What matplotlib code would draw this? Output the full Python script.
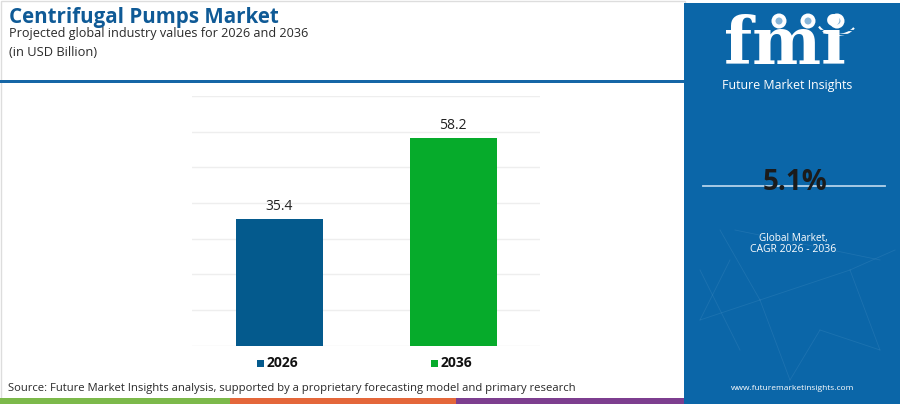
import matplotlib
matplotlib.use("Agg")
import matplotlib.pyplot as plt
from matplotlib.patches import Rectangle, Circle, Arc
from matplotlib.lines import Line2D

# ---- data ----
categories = ["2026", "2036"]
values = [35.4, 58.2]
bar_colors = ["#045a8d", "#06ab2b"]
y_max = 70
y_step = 10
title = "Centrifugal Pumps Market"
subtitle = "Projected global industry values for 2026 and 2036"
unit_text = "(in USD Billion)"
cagr = "5.1%"
source = "Source: Future Market Insights analysis, supported by a proprietary forecasting model and primary research"

W, H = 900, 404
fig = plt.figure(figsize=(W / 100, H / 100), dpi=100)
fig.patch.set_facecolor("white")

def fx(x):
    return x / W

def fy(y):
    return 1 - y / H

FONT = ["Open Sans", "DejaVu Sans"]

# decoration overlay in pixel coords
ov = fig.add_axes([0, 0, 1, 1], zorder=0)
ov.set_xlim(0, W)
ov.set_ylim(H, 0)
ov.axis("off")

# faint outer border
ov.add_patch(Rectangle((0.5, 0.5), 684, 403, fill=False, edgecolor="#dddddd", lw=1))
# header line
ov.add_patch(Rectangle((0, 80), 684, 3, facecolor="#1566a6", edgecolor="none"))
# bottom strip
ov.add_patch(Rectangle((0, 398), 230, 6, facecolor="#7cb94a", edgecolor="none"))
ov.add_patch(Rectangle((230, 398), 226, 6, facecolor="#e4673a", edgecolor="none"))
ov.add_patch(Rectangle((456, 398), 228, 6, facecolor="#7d3e8f", edgecolor="none"))
# right panel
PANEL = "#0b66a8"
ov.add_patch(Rectangle((684, 3), 216, 401, facecolor=PANEL, edgecolor="none"))

# faint network in panel
net = [((720, 230), (760, 300)), ((760, 300), (850, 270)), ((700, 320), (760, 300)),
       ((850, 270), (880, 350)), ((760, 300), (790, 380)), ((730, 260), (700, 320)),
       ((820, 330), (880, 350)), ((790, 380), (820, 330)), ((850, 270), (895, 250)),
       ((735, 230), (880, 260)), ((700, 270), (740, 350))]
for (a, b) in net:
    ov.add_line(Line2D([a[0], b[0]], [a[1], b[1]], color="#5a9ccc", lw=0.6, alpha=0.22))

# logo
ov.text(785, 64.5, "fmi", color="white", fontsize=47, fontweight="bold",
        family=["DejaVu Serif"], ha="center", va="baseline")
for yy in range(30, 66, 4):
    ov.add_line(Line2D([715, 860], [yy, yy], color=PANEL, lw=0.9))
for cx in (779, 808, 837):
    ov.add_patch(Circle((cx, 21), 7.5, facecolor="white", edgecolor="none"))
    ov.add_patch(Circle((cx, 21), 3.5, facecolor="#3a86c0", edgecolor="none", alpha=0.6))
ov.add_patch(Arc((837, 20), 40, 30, theta1=25, theta2=160, color="white", lw=1.5))
ov.text(787, 86, "Future Market Insights", color="white", fontsize=8.9,
        family=FONT, ha="center", va="center")

# CAGR
ov.add_line(Line2D([703, 885], [186, 186], color="#b4d2ea", lw=1.3))
ov.text(795, 183, cagr, color="#1b1b1b", fontsize=20, fontweight="bold",
        family=FONT, ha="center", va="center")
ov.text(793, 238, "Global Market,", color="white", fontsize=7.2, family=FONT,
        ha="center", va="center")
ov.text(793, 250, "CAGR 2026 - 2036", color="white", fontsize=7.5, family=FONT,
        ha="center", va="center")
ov.text(793, 389, "www.futuremarketinsights.com", color="white", fontsize=6,
        family=FONT, ha="center", va="center")

# titles
ov.text(9, 18, title, color="#0f5a96", fontsize=14.8, fontweight="bold",
        family=FONT, ha="left", va="center")
ov.text(9, 34, subtitle, color="#2a2a2a", fontsize=9.1, family=FONT,
        ha="left", va="center")
ov.text(9, 53, unit_text, color="#2a2a2a", fontsize=9.3, family=FONT,
        ha="left", va="center")
ov.text(8, 389, source, color="#2a2a2a", fontsize=8.1, family=FONT,
        ha="left", va="center")

# ---- bar chart ----
ax = fig.add_axes([fx(192), fy(345.7), fx(540) - fx(192), fy(96) - fy(345.7)], zorder=1)
ax.patch.set_alpha(0)
xs = list(range(len(categories)))
bars = ax.bar(xs, values, width=0.5, color=bar_colors, zorder=2)
ax.set_xlim(-0.5, len(categories) - 0.5)
ax.set_ylim(0, y_max)
ax.set_yticks(range(0, y_max + 1, y_step))
ax.yaxis.grid(True, color="#eeeeee", lw=1, zorder=0)
ax.set_axisbelow(True)
ax.tick_params(left=False, bottom=False, labelleft=False, labelbottom=False)
for s in ax.spines.values():
    s.set_visible(False)
for x, v in zip(xs, values):
    ax.annotate(f"{v:.1f}", (x, v), xytext=(0, 4), textcoords="offset points",
                ha="center", va="bottom", fontsize=10, color="#222222", family=FONT)

# legend below
ly = fy(363)
for x, c, lab in zip(xs, bar_colors, categories):
    px = ax.transData.transform((x, 0))[0]
    fig.patches.append(Rectangle((fx(px - 22), fy(367)), fx(7), 7 / H,
                                 facecolor=c, edgecolor="none",
                                 transform=fig.transFigure, figure=fig))
    fig.text(fx(px - 12), ly, lab, fontsize=10, fontweight="bold", color="#111111",
             family=FONT, ha="left", va="center")

fig.savefig("out.png", dpi=100, facecolor="white")
